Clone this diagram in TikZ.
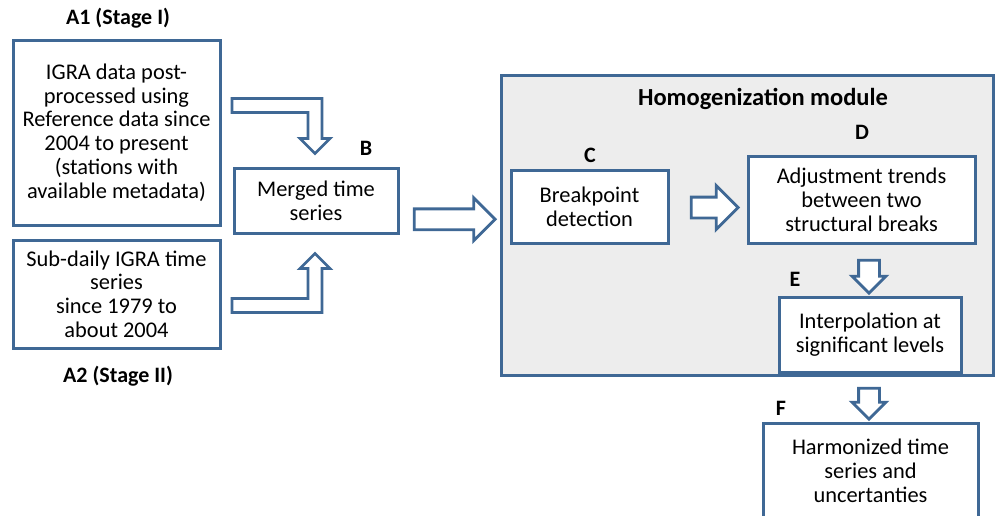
\documentclass[tikz,border=0pt]{standalone}
\usepackage{fontspec}
\setmainfont{Carlito}
\usetikzlibrary{shapes.arrows,calc}
\definecolor{bl}{HTML}{3F6895}
\definecolor{gr}{HTML}{EDEDED}
\begin{document}
\begin{tikzpicture}[x=1pt,y=-1pt,
  box/.style={draw=bl, line width=3pt, fill=white, align=center,
    font=\fontsize{22.4}{23.8}\selectfont, inner sep=0pt},
  lab/.style={font=\fontsize{22}{26}\selectfont\bfseries, inner sep=0pt},
  barrow/.style={draw=bl, line width=2.8pt, fill=white, line join=miter},
  sarrow/.style={single arrow, draw=bl, line width=2.8pt, fill=white,
    inner xsep=0pt, inner ysep=9pt, single arrow head indent=0pt}]
\useasboundingbox (0,0) rectangle (996,515);
\clip (0,0) rectangle (996,515);
% module background
\node[box, fill=gr, minimum width=492pt, minimum height=300pt] (H) at (747,225) {};
\node[lab, font=\fontsize{24.5}{26}\selectfont\bfseries] (Ht) at (763,99) {Homogenization module};
% nodes
\node[box, minimum width=207pt, minimum height=185pt] (A1) at (116.5,132.5)
  {IGRA data post-\\processed using\\Reference data since\\2004 to present\\(stations with\\available metadata)};
\node[box, minimum width=207pt, minimum height=108pt] (A2) at (116.5,294)
  {Sub-daily IGRA time\\series\\since 1979 to\\about 2004};
\node[box, minimum width=164pt, minimum height=65pt] (B) at (316,200.5)
  {Merged time\\series};
\node[box, minimum width=157pt, minimum height=73pt] (C) at (589.5,206.5)
  {Breakpoint\\detection};
\node[box, minimum width=227pt, minimum height=87pt] (D) at (861.5,199.5)
  {Adjustment trends\\between two\\structural breaks};
\node[box, minimum width=182pt, minimum height=75pt] (E) at (870,334.5)
  {Interpolation at\\significant levels};
\node[box, minimum width=215pt, minimum height=96pt] (F) at (870.5,471)
  {Harmonized time\\series and\\uncertanties};
% labels
\node[lab] (lA1) at (118,18) {A1 (Stage I)};
\node[lab] (lA2) at (118,376) {A2 (Stage II)};
\node[lab] (lB) at (366,148) {B};
\node[lab] (lC) at (590,155) {C};
\node[lab] (lD) at (862,132) {D};
\node[lab] (lE) at (795,279) {E};
\node[lab] (lF) at (781,408) {F};
% elbow arrows (drawn in the frame of B.north / B.south)
\draw[barrow, shift={(B.north)}]
  (-84,-68) -- (6,-68) -- (6,-28) -- (14,-28) -- (-1,-13) -- (-16,-28)
  -- (-8,-28) -- (-8,-54) -- (-84,-54) -- cycle;
\draw[barrow, shift={(B.south)}]
  (-84,78) -- (6,78) -- (6,34) -- (14,34) -- (-1,19) -- (-16,34)
  -- (-8,34) -- (-8,64) -- (-84,64) -- cycle;
% straight arrows
\node[sarrow, minimum height=81pt, minimum width=40pt, single arrow head extend=11pt]
  (aBH) at ($(B.east)!0.5!(H.west)+(0,6.5)$) {};
\node[sarrow, minimum height=47pt, minimum width=41pt, single arrow head extend=11.5pt]
  (aCD) at (709.5,207.5) {};
\node[sarrow, rotate=-90, minimum height=33pt, minimum width=31pt, single arrow head extend=6.5pt]
  (aDE) at (869,271.5) {};
\node[sarrow, rotate=-90, minimum height=31pt, minimum width=31pt, single arrow head extend=6.5pt]
  (aEF) at (869,398.5) {};
\end{tikzpicture}
\end{document}
